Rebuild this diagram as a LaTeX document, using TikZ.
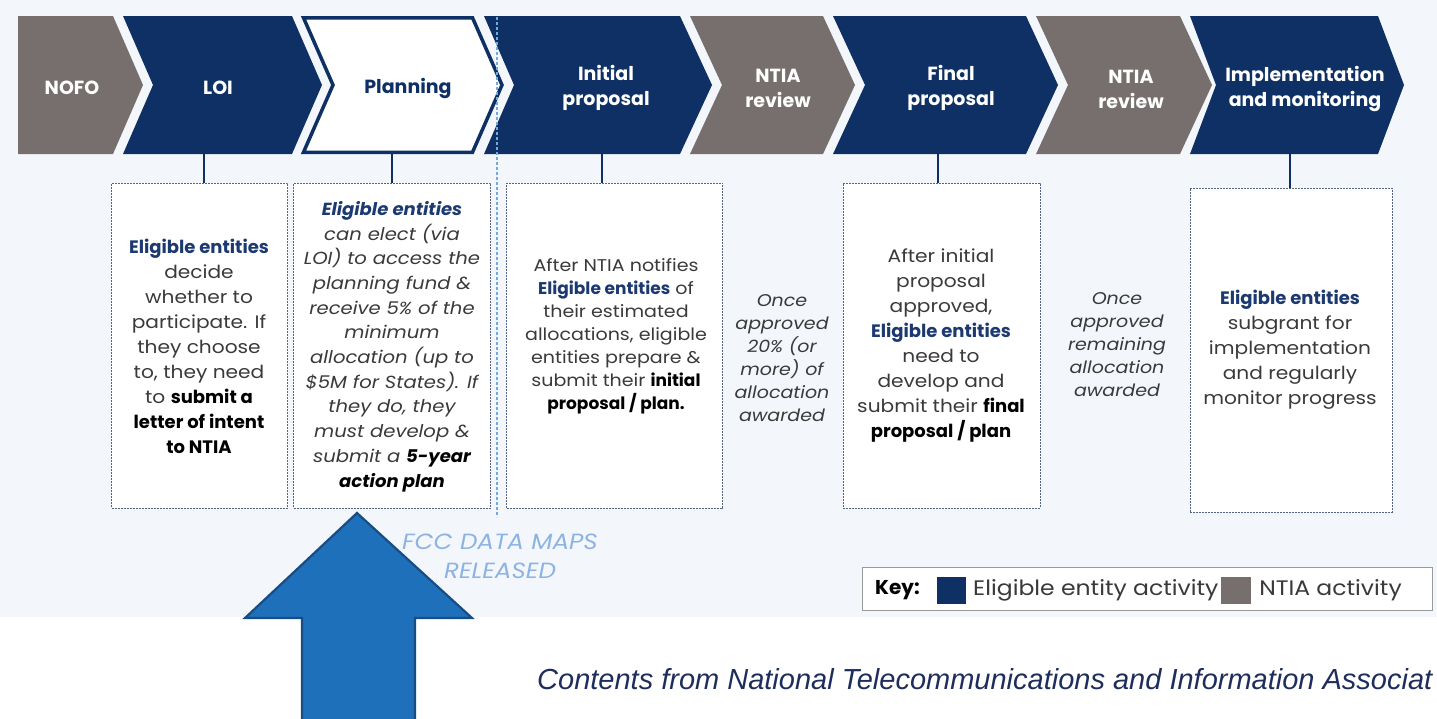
\documentclass[tikz,border=0pt]{standalone}
\usepackage{fontspec}
\setmainfont{Poppins}[FakeStretch=1.12, BoldFeatures={FakeStretch=1.0}, BoldItalicFeatures={FakeStretch=1.03}]
\newfontfamily\arialfont{Liberation Sans}
\definecolor{navy}{HTML}{0F3064}
\definecolor{gry}{HTML}{766F6D}
\definecolor{bgc}{HTML}{F3F7FC}
\definecolor{navyt}{HTML}{1C3A70}
\definecolor{bodyt}{HTML}{3A3A3A}
\definecolor{boxline}{HTML}{56657F}
\definecolor{dotblue}{HTML}{74A9DE}
\definecolor{fcct}{HTML}{8DB3E2}
\definecolor{arrowf}{HTML}{1E70BB}
\definecolor{arrowd}{HTML}{174C84}
\definecolor{foott}{HTML}{1F2D5C}
\newcommand\elig{{\color{navyt}\bfseries Eligible entities}}
\newcommand\bk[1]{{\color{black}\bfseries #1}}
\tikzset{
  chevtext/.style={text=white, font=\fontsize{19}{25}\selectfont\bfseries, align=center, inner sep=0pt},
  dbox/.style={draw=boxline, fill=white, line width=0.9pt, dash pattern=on 2pt off 1pt, inner sep=0pt},
  boxtext/.style={text=bodyt, align=center, inner sep=0pt, font=\fontsize{18}{25}\selectfont},
  midtext/.style={text=bodyt, align=center, inner sep=0pt, font=\fontsize{17}{23}\selectfont\itshape},
  link/.style={draw=navy, line width=1.6pt},
  keytext/.style={text=bodyt, inner sep=0pt, anchor=west, font=\fontsize{21}{24}\selectfont}
}
\begin{document}
\begin{tikzpicture}[x=1pt,y=-1pt]
\useasboundingbox (0,0) rectangle (1437,718);
\fill[bgc] (0,0) rectangle (1437,617);
% chevrons
\fill[gry] (18,16) -- (113,16) -- (143,85) -- (113,154) -- (18,154) -- cycle;
\fill[navy] (123,16) -- (292,16) -- (322,85) -- (292,154) -- (123,154) -- (153,85) -- cycle;
\draw[navy, line width=3.5pt, fill=white, line join=miter] (303.5,17.75) -- (472.5,17.75) -- (502,85) -- (472.5,152.25) -- (303.5,152.25) -- (333,85) -- cycle;
\fill[navy] (484,16) -- (680,16) -- (712,85) -- (680,154) -- (484,154) -- (514,85) -- cycle;
\fill[gry] (690,16) -- (823,16) -- (855,85) -- (823,154) -- (690,154) -- (722,85) -- cycle;
\fill[navy] (833,16) -- (1026,16) -- (1058,85) -- (1026,154) -- (833,154) -- (865,85) -- cycle;
\fill[gry] (1036,16) -- (1180,16) -- (1212,85) -- (1180,154) -- (1036,154) -- (1068,85) -- cycle;
\fill[navy] (1190,16) -- (1378,16) -- (1404,85) -- (1378,154) -- (1190,154) -- (1216,85) -- cycle;
\node[chevtext] (t1) at (72,88) {NOFO};
\node[chevtext] (t2) at (218,88) {LOI};
\node[chevtext, text=navy] (t3) at (408,88) {Planning};
\node[chevtext] (t4) at (606,88) {Initial\\proposal};
\node[chevtext] (t5) at (778,88) {NTIA\\review};
\node[chevtext] (t6) at (951,88) {Final\\proposal};
\node[chevtext] (t7) at (1131,89) {NTIA\\review};
\node[chevtext] (t8) at (1305,89) {Implementation\\and monitoring};
\coordinate (c2) at (204,154);
\coordinate (c3) at (392,151);
\coordinate (c4) at (602,154);
\coordinate (c6) at (938,154);
\coordinate (c8) at (1290,154);
% boxes
\node[dbox, minimum width=176, minimum height=325] (b1) at (199.5,345.5) {};
\node[dbox, minimum width=197, minimum height=325] (b2) at (392,345.5) {};
\node[dbox, minimum width=216, minimum height=325] (b3) at (614.5,345.5) {};
\node[dbox, minimum width=197, minimum height=325] (b4) at (941.5,345.5) {};
\node[dbox, minimum width=202, minimum height=324] (b5) at (1291,350) {};
\draw[link] (c2) -- (c2 |- b1.north);
\draw[link] (c3) -- (c3 |- b2.north);
\draw[link] (c4) -- (c4 |- b3.north);
\draw[link] (c6) -- (c6 |- b4.north);
\draw[link] (c8) -- (c8 |- b5.north);
% box texts
\node[boxtext] (x1) at (199,346) {\elig\\decide\\whether to\\participate. If\\they choose\\to, they need\\to \bk{submit a}\\\bk{letter of intent}\\\bk{to NTIA}};
\node[boxtext, font=\fontsize{17.5}{24.7}\selectfont\itshape] (x2) at (392,346.5) {\elig\\can elect (via\\LOI) to access the\\planning fund \&\\receive 5\% of the\\minimum\\allocation (up to\\\$5M for States). If\\they do, they\\must develop \&\\submit a \bk{5-year}\\\bk{action plan}};
\node[boxtext, font=\fontsize{17}{23}\selectfont] (x3) at (616,336.5) {After NTIA notifies\\\elig{} of\\their estimated\\allocations, eligible\\entities prepare \&\\submit their \bk{initial}\\\bk{proposal / plan.}};
\node[boxtext] (x4) at (941,346) {After initial\\proposal\\approved,\\\elig\\need to\\develop and\\submit their \bk{final}\\\bk{proposal / plan}};
\node[boxtext] (x5) at (1290,350) {\elig\\subgrant for\\implementation\\and regularly\\monitor progress};
\node[midtext] (m1) at (782,358) {Once\\approved\\20\% (or\\more) of\\allocation\\awarded};
\node[midtext] (m2) at (1117,345) {Once\\approved\\remaining\\allocation\\awarded};
% dotted line
\coordinate (d1) at (497,17);
\coordinate (d2) at (497,517);
\draw[dotblue, line width=2.8pt, dash pattern=on 2.5pt off 2.5pt] (d1) -- (d2);
% FCC text
\node[text=fcct, align=center, inner sep=0pt, font=\fontsize{22}{29}\selectfont\itshape] (fcc) at (500,556) {FCC DATA MAPS\\RELEASED};
% arrow
\draw[fill=arrowf, draw=arrowd, line width=2.2pt, line join=miter] (357,513) -- (472,618) -- (415,618) -- (415,730) -- (302,730) -- (302,618) -- (245,618) -- cycle;
% key
\node[draw=gray!80, fill=white, line width=1pt, minimum width=570, minimum height=43, inner sep=0pt] (key) at (1147,588.5) {};
\node[keytext, text=black, font=\fontsize{20}{24}\selectfont\bfseries] (k0) at (875,590) {Key:};
\node[fill=navy, minimum width=29, minimum height=27, inner sep=0pt] (k1) at (951.5,590.5) {};
\node[keytext] (k2) at (973,590) {Eligible entity activity};
\node[fill=gry, minimum width=30, minimum height=27, inner sep=0pt, anchor=west] (k3) at ([xshift=2pt]k2.east |- k1) {};
\node[keytext] (k4) at ([xshift=8pt]k3.east |- k2) {NTIA activity};
% footer
\node[anchor=base west, inner sep=0pt, text=foott, font=\arialfont\fontsize{29}{32}\selectfont\itshape] (foot) at (537,689) {Contents from National Telecommunications and Information Associat};
\end{tikzpicture}
\end{document}
